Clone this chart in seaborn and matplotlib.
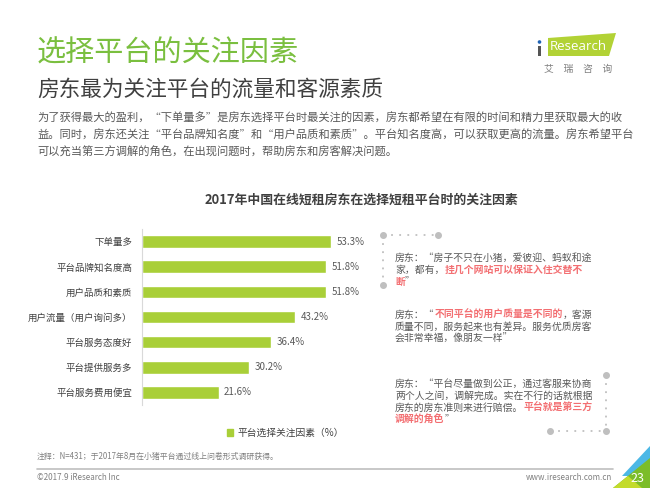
import pandas as pd
import seaborn as sns
import matplotlib.pyplot as plt
from matplotlib.patches import Polygon, Patch, Rectangle, Circle

# chart data
categories = ['下单量多', '平台品牌知名度高', '用户品质和素质', '用户流量（用户询问多）',
              '平台服务态度好', '平台提供服务多', '平台服务费用便宜']
shares = [53.3, 51.8, 51.8, 43.2, 36.4, 30.2, 21.6]
series_name = '平台选择关注因素（%）'

# page texts
title = '选择平台的关注因素'
subtitle = '房东最为关注平台的流量和客源素质'
intro = ['为了获得最大的盈利，“下单量多”是房东选择平台时最关注的因素，房东都希望在有限的时间和精力里获取最大的收',
         '益。同时，房东还关注“平台品牌知名度”和“用户品质和素质”。平台知名度高，可以获取更高的流量。房东希望平台',
         '可以充当第三方调解的角色，在出现问题时，帮助房东和房客解决问题。']
chart_title = '2017年中国在线短租房东在选择短租平台时的关注因素'
# each quote: list of lines, each line: list of (text, highlighted)
quotes = [
    [[('房东：“房子不只在小猪，爱彼迎、蚂蚁和途', False)],
     [('家，都有，', False), ('挂几个网站可以保证入住交替不', True)],
     [('断', True), ('”', False)]],
    [[('房东：“', False), ('不同平台的用户质量是不同的', True), ('，客源', False)],
     [('质量不同，服务起来也有差异。服务优质房客', False)],
     [('会非常幸福，像朋友一样”', False)]],
    [[('房东：“平台尽量做到公正，通过客服来协商', False)],
     [('两个人之间，调解完成。实在不行的话就根据', False)],
     [('房东的房东准则来进行赔偿。', False), ('平台就是第三方', True)],
     [('调解的角色', True), ('”', False)]],
]
note = '注释：N=431；于2017年8月在小猪平台通过线上问卷形式调研获得。'
copyright_text = '©2017.9 iResearch Inc'
site = 'www.iresearch.com.cn'
page_no = '23'

bar_color = '#a9cf38'
title_green = '#7abf3f'
dark = '#404040'
gray = '#595959'
light = '#808080'
red = '#f36f72'

sns.set_theme(style='white')
plt.rcParams['font.family'] = ['Noto Sans CJK SC', 'DejaVu Sans']

fig = plt.figure(figsize=(6.5, 4.88), dpi=100)
fig.patch.set_facecolor('white')

# page layer in pixel units
bg = fig.add_axes([0, 0, 1, 1])
bg.set_xlim(0, 650)
bg.set_ylim(488, 0)
bg.axis('off')

bg.text(37, 54, title, fontsize=21, color=title_green, va='center')
bg.text(37, 90, subtitle, fontsize=15.6, color=dark, va='center')
for i, line in enumerate(intro):
    bg.text(37, 118 + i * 17, line, fontsize=8.1, color=gray, va='center')
bg.text(205, 200, chart_title, fontsize=9.3, color=dark, fontweight='bold', va='center')

# logo
bg.add_patch(Polygon([(548, 38), (616, 33), (609, 56), (548, 56)], closed=True,
                     facecolor='#b2d235', edgecolor='none'))
bg.text(550, 46, 'Research', fontsize=9.5, color='white', va='center', family='Open Sans')
bg.add_patch(Rectangle((538, 46), 3, 10, facecolor='#555555', edgecolor='none'))
bg.add_patch(Circle((539.5, 42), 1.8, facecolor='#1f63b5', edgecolor='none'))
bg.text(578, 69, '艾　瑞　咨　询', fontsize=7, color='#7f7f7f', va='center', ha='center')

# quotes
renderer = fig.canvas.get_renderer()
quote_rows = [[258, 270, 282], [315, 327, 339], [384, 396, 408, 420]]
for quote, rows in zip(quotes, quote_rows):
    for parts, y in zip(quote, rows):
        x = 395
        for txt, hot in parts:
            t = bg.text(x, y, txt, fontsize=7.1, va='center',
                        color=red if hot else gray,
                        fontweight='bold' if hot else 'normal')
            x += t.get_window_extent(renderer).width

dot_style = dict(color='#bfbfbf', lw=1.3, linestyle=(0, (1, 3.5)))
bg.plot([383, 438], [235, 235], **dot_style)
bg.plot([383, 383], [235, 285], **dot_style)
bg.plot([606, 606], [375, 431], **dot_style)
bg.plot([550, 606], [431, 431], **dot_style)
bg.plot([383, 438, 383, 606, 606, 550], [235, 235, 285, 375, 431, 431],
        linestyle='none', marker='o', markersize=4, color='#bfbfbf')

# footer
bg.text(37, 456, note, fontsize=5.7, color=light, va='center')
bg.plot([37, 613], [469, 469], color='#bfbfbf', lw=1.2)
bg.text(37, 477, copyright_text, fontsize=5.8, color=light, va='center')
bg.text(612, 477, site, fontsize=5.8, color=light, va='center', ha='right')
bg.add_patch(Polygon([(622, 476), (650, 446), (650, 476)], facecolor='#4cb8e6', edgecolor='none'))
bg.add_patch(Polygon([(613, 488), (650, 488), (650, 458)], facecolor='#7cbd29', edgecolor='none'))
bg.add_patch(Polygon([(613, 488), (642, 488), (628, 476)], facecolor='#c3db2c', edgecolor='none'))
bg.text(637, 478, page_no, fontsize=9, color='white', va='center', ha='center')

# bar chart
ax = fig.add_axes([142 / 650, 1 - 405 / 488, 58 * 3.546 / 650, 176 / 488])
df = pd.DataFrame({'factor': categories, 'share': shares})
sns.barplot(data=df, x='share', y='factor', color=bar_color, saturation=1,
            width=0.5, ax=ax)
ax.set_xlim(0, 58)
ax.set_ylim(6.5, -0.5)
ax.set_xlabel('')
ax.set_ylabel('')
ax.set_xticks([])
ax.patch.set_alpha(0)
for side in ['top', 'right', 'bottom']:
    ax.spines[side].set_visible(False)
ax.spines['left'].set_color('#d9d9d9')
ax.spines['left'].set_linewidth(0.8)
ax.tick_params(axis='y', length=0, pad=7, labelsize=6.8, labelcolor=dark)
ax.bar_label(ax.containers[0], fmt='%.1f%%', padding=4, fontsize=7, color=gray)

fig.legend(handles=[Patch(color=bar_color, label=series_name)], loc='center left',
           bbox_to_anchor=(227 / 650, 1 - 433 / 488), frameon=False, fontsize=7,
           labelcolor=dark, handlelength=0.6, handleheight=0.6, handletextpad=0.5,
           borderaxespad=0, borderpad=0)

fig.savefig('out.png', dpi=100)
